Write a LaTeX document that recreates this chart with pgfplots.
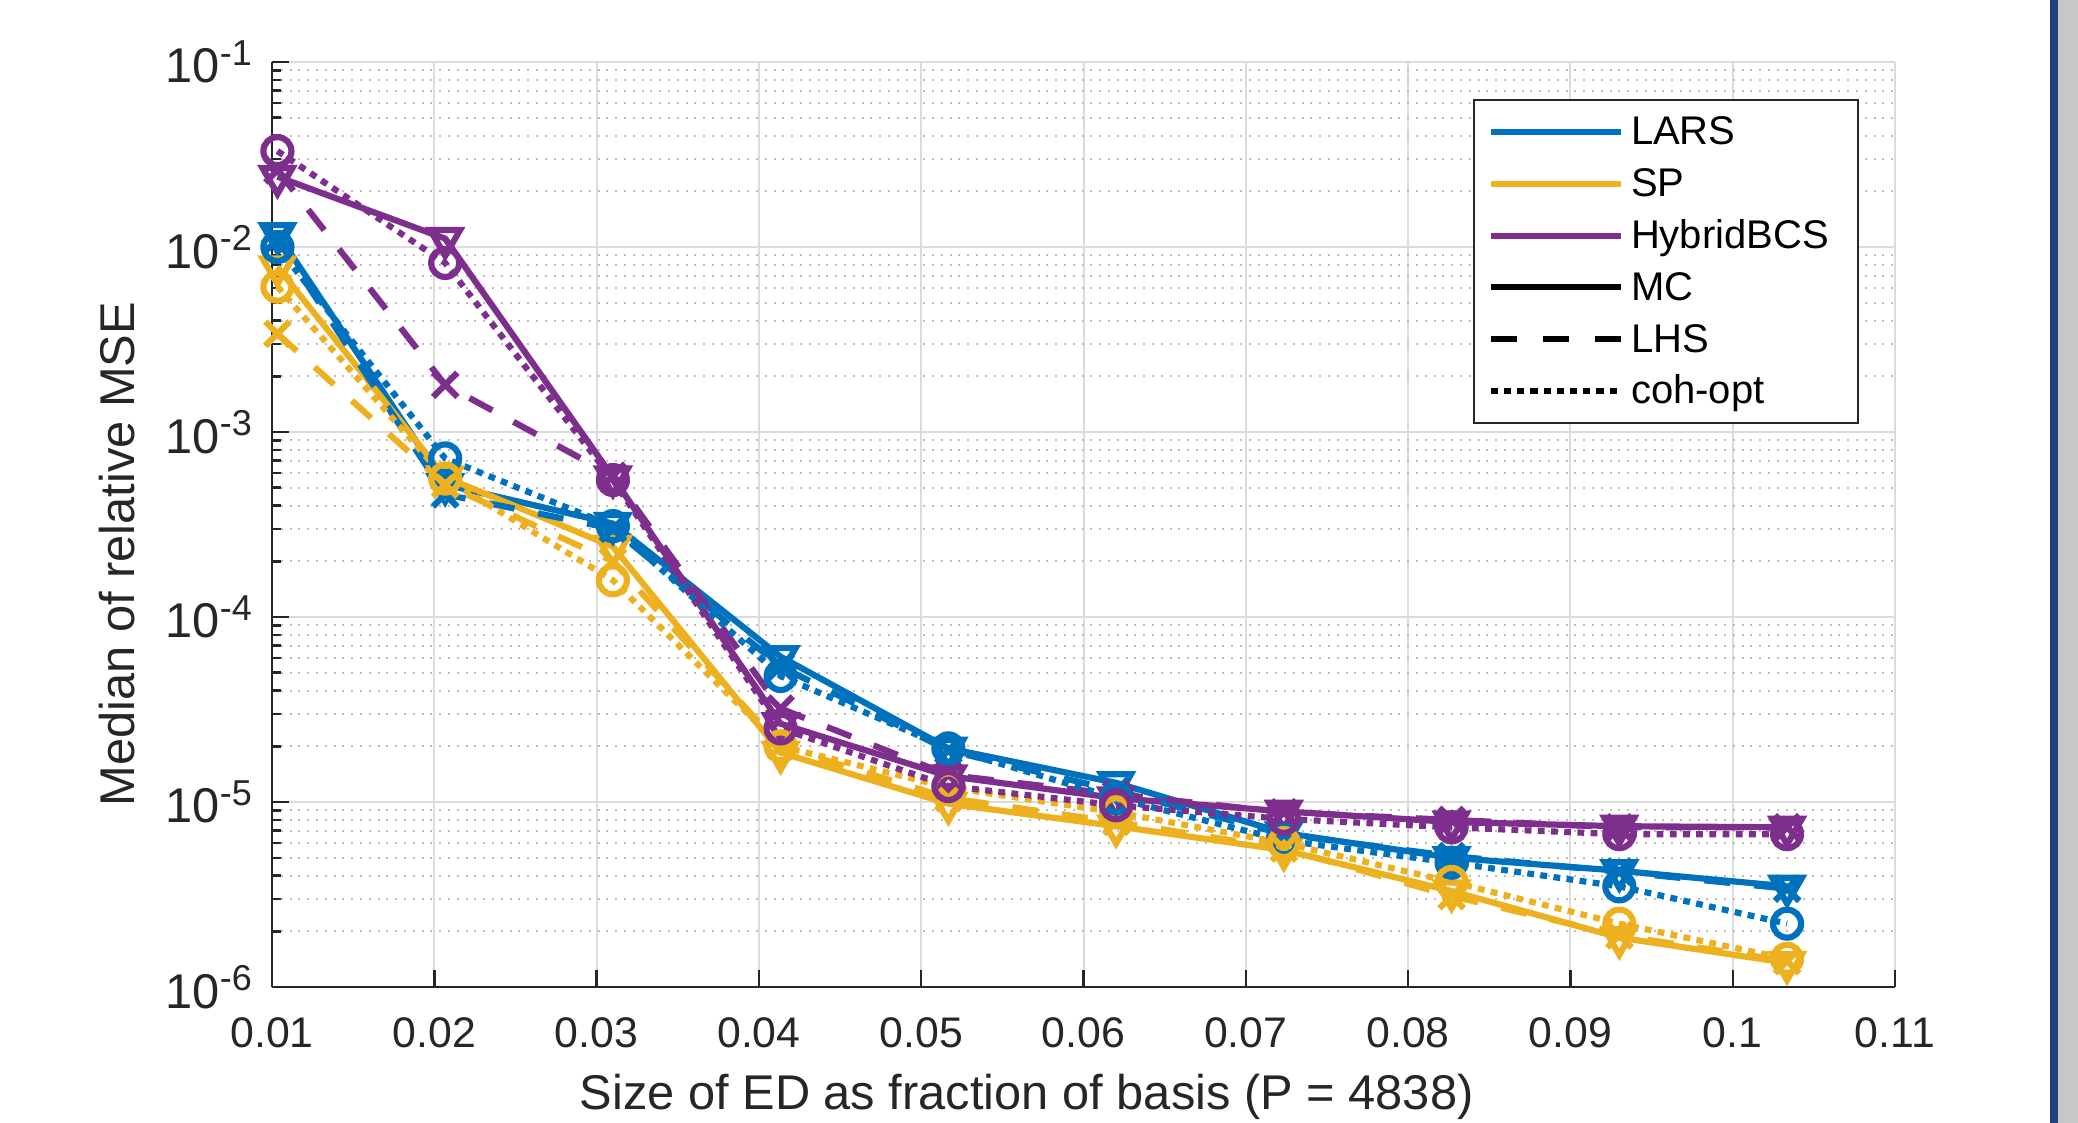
\documentclass[border=0pt]{standalone}
\usepackage{fontspec}
\setmainfont{Liberation Sans}
\usepackage{pgfplots}
\usepackage{pgfplotstable}
\pgfplotsset{compat=1.18}
\definecolor{mblue}{rgb}{0,0.447,0.741}
\definecolor{myellow}{rgb}{0.929,0.694,0.125}
\definecolor{mpurple}{rgb}{0.494,0.184,0.556}
\definecolor{axgray}{rgb}{0.15,0.15,0.15}
\definecolor{gridgray}{rgb}{0.86,0.86,0.86}
\definecolor{mingray}{rgb}{0.74,0.74,0.74}
\definecolor{barblue}{rgb}{0.12,0.25,0.49}
\definecolor{bargray}{rgb}{0.78,0.78,0.78}

\pgfplotstableread{
x y
0.010335 0.0118
0.020670 0.00052
0.031005 0.00032
0.041339 6.1e-5
0.051674 1.95e-5
0.062009 1.27e-5
0.072344 6.8e-6
0.082679 5.0e-6
0.093014 4.25e-6
0.103349 3.5e-6
}\larsmc
\pgfplotstableread{
x y
0.010335 0.011
0.020670 0.00046
0.031005 0.00030
0.041339 5.4e-5
0.051674 1.9e-5
0.062009 1.15e-5
0.072344 6.7e-6
0.082679 5.1e-6
0.093014 4.2e-6
0.103349 3.4e-6
}\larslhs
\pgfplotstableread{
x y
0.010335 0.0100
0.020670 0.00072
0.031005 0.00031
0.041339 4.8e-5
0.051674 1.95e-5
0.062009 1.05e-5
0.072344 6.2e-6
0.082679 4.7e-6
0.093014 3.5e-6
0.103349 2.2e-6
}\larscoh
\pgfplotstableread{
x y
0.010335 0.0078
0.020670 0.00057
0.031005 0.00024
0.041339 1.85e-5
0.051674 9.8e-6
0.062009 7.4e-6
0.072344 5.5e-6
0.082679 3.3e-6
0.093014 1.85e-6
0.103349 1.35e-6
}\spmc
\pgfplotstableread{
x y
0.010335 0.0034
0.020670 0.00052
0.031005 0.00020
0.041339 2.0e-5
0.051674 1.05e-5
0.062009 7.8e-6
0.072344 5.6e-6
0.082679 3.1e-6
0.093014 1.9e-6
0.103349 1.38e-6
}\splhs
\pgfplotstableread{
x y
0.010335 0.0061
0.020670 0.00056
0.031005 0.000158
0.041339 2.0e-5
0.051674 1.2e-5
0.062009 8.8e-6
0.072344 6.0e-6
0.082679 3.7e-6
0.093014 2.2e-6
0.103349 1.42e-6
}\spcoh
\pgfplotstableread{
x y
0.010335 0.024
0.020670 0.0111
0.031005 0.00057
0.041339 2.65e-5
0.051674 1.38e-5
0.062009 1.05e-5
0.072344 8.9e-6
0.082679 7.8e-6
0.093014 7.4e-6
0.103349 7.3e-6
}\hymc
\pgfplotstableread{
x y
0.010335 0.026
0.020670 0.0018
0.031005 0.00058
0.041339 3.2e-5
0.051674 1.4e-5
0.062009 1.1e-5
0.072344 8.8e-6
0.082679 8.0e-6
0.093014 7.3e-6
0.103349 7.3e-6
}\hylhs
\pgfplotstableread{
x y
0.010335 0.033
0.020670 0.0082
0.031005 0.00055
0.041339 2.5e-5
0.051674 1.22e-5
0.062009 9.6e-6
0.072344 8.1e-6
0.082679 7.3e-6
0.093014 6.7e-6
0.103349 6.7e-6
}\hycoh

\pgfplotsset{
  mc/.style={solid, line width=1.55pt, mark=triangle, mark size=4.3pt, mark options={solid, rotate=180}},
  lhs/.style={line width=1.55pt, dash pattern=on 6.5pt off 6pt, mark=x, mark size=4.3pt, mark options={solid}},
  coh/.style={line width=1.55pt, dash pattern=on 1.7pt off 1.6pt, mark=o, mark size=3.5pt, mark options={solid}},
}

\newcommand{\tenp}[1]{10\textsuperscript{\fontsize{9}{10}\selectfont #1}}

\begin{document}
\begin{tikzpicture}
\useasboundingbox (-68pt,-34pt) rectangle (451.5pt,246.75pt);
\begin{axis}[
  at={(0,0)}, anchor=south west,
  scale only axis, width=405.75pt, height=231.25pt,
  xmin=0.01, xmax=0.11, ymin=1e-6, ymax=1e-1,
  ymode=log, log basis y=10,
  axis x line*=bottom, axis y line*=left,
  x axis line style={-, axgray, line width=0.6pt},
  y axis line style={-, axgray, line width=0.6pt},
  tick align=inside,
  major tick length=4.25pt, minor tick length=2.3pt,
  tick style={axgray, line width=0.6pt},
  xtick={0.01,0.02,0.03,0.04,0.05,0.06,0.07,0.08,0.09,0.1,0.11},
  xticklabels={0.01,0.02,0.03,0.04,0.05,0.06,0.07,0.08,0.09,0.1,0.11},
  ytick={1e-6,1e-5,1e-4,1e-3,1e-2,1e-1},
  yticklabels={\tenp{-6},\tenp{-5},\tenp{-4},\tenp{-3},\tenp{-2},\tenp{-1}},
  minor ytick={2e-6,3e-6,4e-6,5e-6,6e-6,7e-6,8e-6,9e-6,
               2e-5,3e-5,4e-5,5e-5,6e-5,7e-5,8e-5,9e-5,
               2e-4,3e-4,4e-4,5e-4,6e-4,7e-4,8e-4,9e-4,
               2e-3,3e-3,4e-3,5e-3,6e-3,7e-3,8e-3,9e-3,
               2e-2,3e-2,4e-2,5e-2,6e-2,7e-2,8e-2,9e-2},
  /pgf/number format/assume math mode=true,
  grid=both,
  major grid style={gridgray, line width=0.5pt},
  minor grid style={mingray, line width=0.5pt, dash pattern=on 0.5pt off 1.7pt},
  xticklabel style={font=\fontsize{10.7}{12}\selectfont, text=axgray, yshift=-4.2pt},
  yticklabel style={font=\fontsize{12.2}{14}\selectfont, text=axgray, xshift=-1pt},
  xlabel={Size of ED as fraction of basis (P = 4838)},
  ylabel={Median of relative MSE},
  label style={font=\fontsize{12.2}{14}\selectfont, text=axgray},
  xlabel style={at={(axis description cs:0.465,-0.119)}, anchor=center},
  ylabel style={at={(axis description cs:-0.0955,0.468)}, anchor=center},
  legend style={at={(axis description cs:0.978,0.96)}, anchor=north east,
    draw=axgray, line width=0.6pt, fill=white,
    font=\fontsize{10}{12}\selectfont,
    inner xsep=3.4pt, inner ysep=2.2pt, row sep=1.45pt, column sep=0.8pt,
    nodes={inner sep=1pt, text height=8pt, text depth=1.5pt},
    cells={anchor=west}},
  legend image code/.code={\draw[#1] (0pt,0pt) -- (32.5pt,0pt);},
]
\addlegendimage{mblue, solid, line width=1.5pt}
\addlegendentry{LARS}
\addlegendimage{myellow, solid, line width=1.5pt}
\addlegendentry{SP}
\addlegendimage{mpurple, solid, line width=1.5pt}
\addlegendentry{HybridBCS\rule{2.9pt}{0pt}}
\addlegendimage{black, solid, line width=1.5pt}
\addlegendentry{MC}
\addlegendimage{black, line width=1.5pt, dash pattern=on 6.5pt off 6.5pt}
\addlegendentry{LHS}
\addlegendimage{black, line width=1.5pt, dash pattern=on 1.8pt off 1.5pt}
\addlegendentry{coh-opt}

\addplot[mblue, mc, forget plot] table {\larsmc};
\addplot[myellow, mc, forget plot] table {\spmc};
\addplot[mpurple, mc, forget plot] table {\hymc};
\addplot[mblue, lhs, forget plot] table {\larslhs};
\addplot[myellow, lhs, forget plot] table {\splhs};
\addplot[mpurple, lhs, forget plot] table {\hylhs};
\addplot[mblue, coh, forget plot] table {\larscoh};
\addplot[myellow, coh, forget plot] table {\spcoh};
\addplot[mpurple, coh, forget plot] table {\hycoh};
\end{axis}
\fill[barblue] (444.5pt,-34pt) rectangle (446.6pt,246.75pt);
\fill[bargray] (446.6pt,-34pt) rectangle (451.5pt,246.75pt);
\end{tikzpicture}
\end{document}
